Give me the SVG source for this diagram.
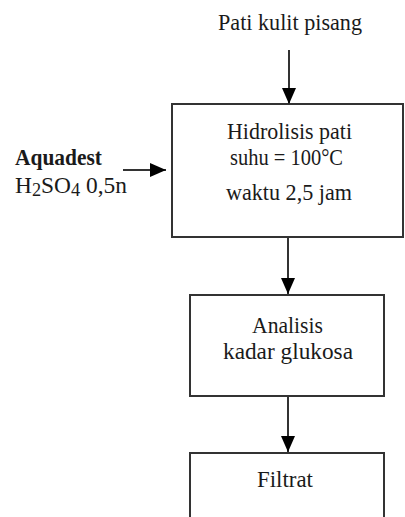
<svg xmlns="http://www.w3.org/2000/svg" width="405" height="517" viewBox="0 0 405 517">
<defs>
<marker id="ah" markerUnits="userSpaceOnUse" markerWidth="16" markerHeight="16" viewBox="0 0 16 16" refX="16" refY="8" orient="auto">
<path d="M0,1 L16,8 L0,15 Z" fill="#000"/>
</marker>
<style>
.t{font-family:"Liberation Serif","Times New Roman",serif;font-size:23px;fill:#1a1a1a}
.b{font-weight:bold}
.box{fill:#fff;stroke:#333;stroke-width:2}
.c{stroke:#333;stroke-width:2;fill:none;marker-end:url(#ah)}
</style>
</defs>
<rect width="405" height="517" fill="#fff"/>
<g id="input-top">
<text class="t" x="218" y="30" textLength="144" lengthAdjust="spacingAndGlyphs">Pati kulit pisang</text>
</g>
<g id="input-left">
<text class="t b" x="15" y="165" textLength="87" lengthAdjust="spacingAndGlyphs">Aquadest</text>
<text class="t" x="15" y="193" textLength="112" lengthAdjust="spacingAndGlyphs">H<tspan font-size="18" dy="3">2</tspan><tspan dy="-3">SO</tspan><tspan font-size="18" dy="3">4</tspan><tspan dy="-3"> 0,5n</tspan></text>
</g>
<g id="hidrolisis">
<rect class="box" x="172" y="104" width="231" height="133"/>
<text class="t" x="227" y="139" textLength="125" lengthAdjust="spacingAndGlyphs">Hidrolisis pati</text>
<text class="t" x="230" y="165" textLength="113" lengthAdjust="spacingAndGlyphs">suhu = 100°C</text>
<text class="t" x="226" y="200" textLength="126" lengthAdjust="spacingAndGlyphs">waktu 2,5 jam</text>
</g>
<g id="analisis">
<rect class="box" x="190" y="295" width="194" height="101"/>
<text class="t" x="252" y="333" textLength="71" lengthAdjust="spacingAndGlyphs">Analisis</text>
<text class="t" x="223" y="359" textLength="130" lengthAdjust="spacingAndGlyphs">kadar glukosa</text>
</g>
<g id="filtrat">
<rect class="box" x="190" y="453" width="194" height="80"/>
<text class="t" x="257" y="487" textLength="56" lengthAdjust="spacingAndGlyphs">Filtrat</text>
</g>
<g id="connectors">
<line class="c" x1="289" y1="50" x2="289" y2="104"/>
<line class="c" x1="123" y1="170" x2="166" y2="170"/>
<line class="c" x1="288" y1="237" x2="288" y2="294"/>
<line class="c" x1="288" y1="396" x2="288" y2="452"/>
</g>
</svg>
